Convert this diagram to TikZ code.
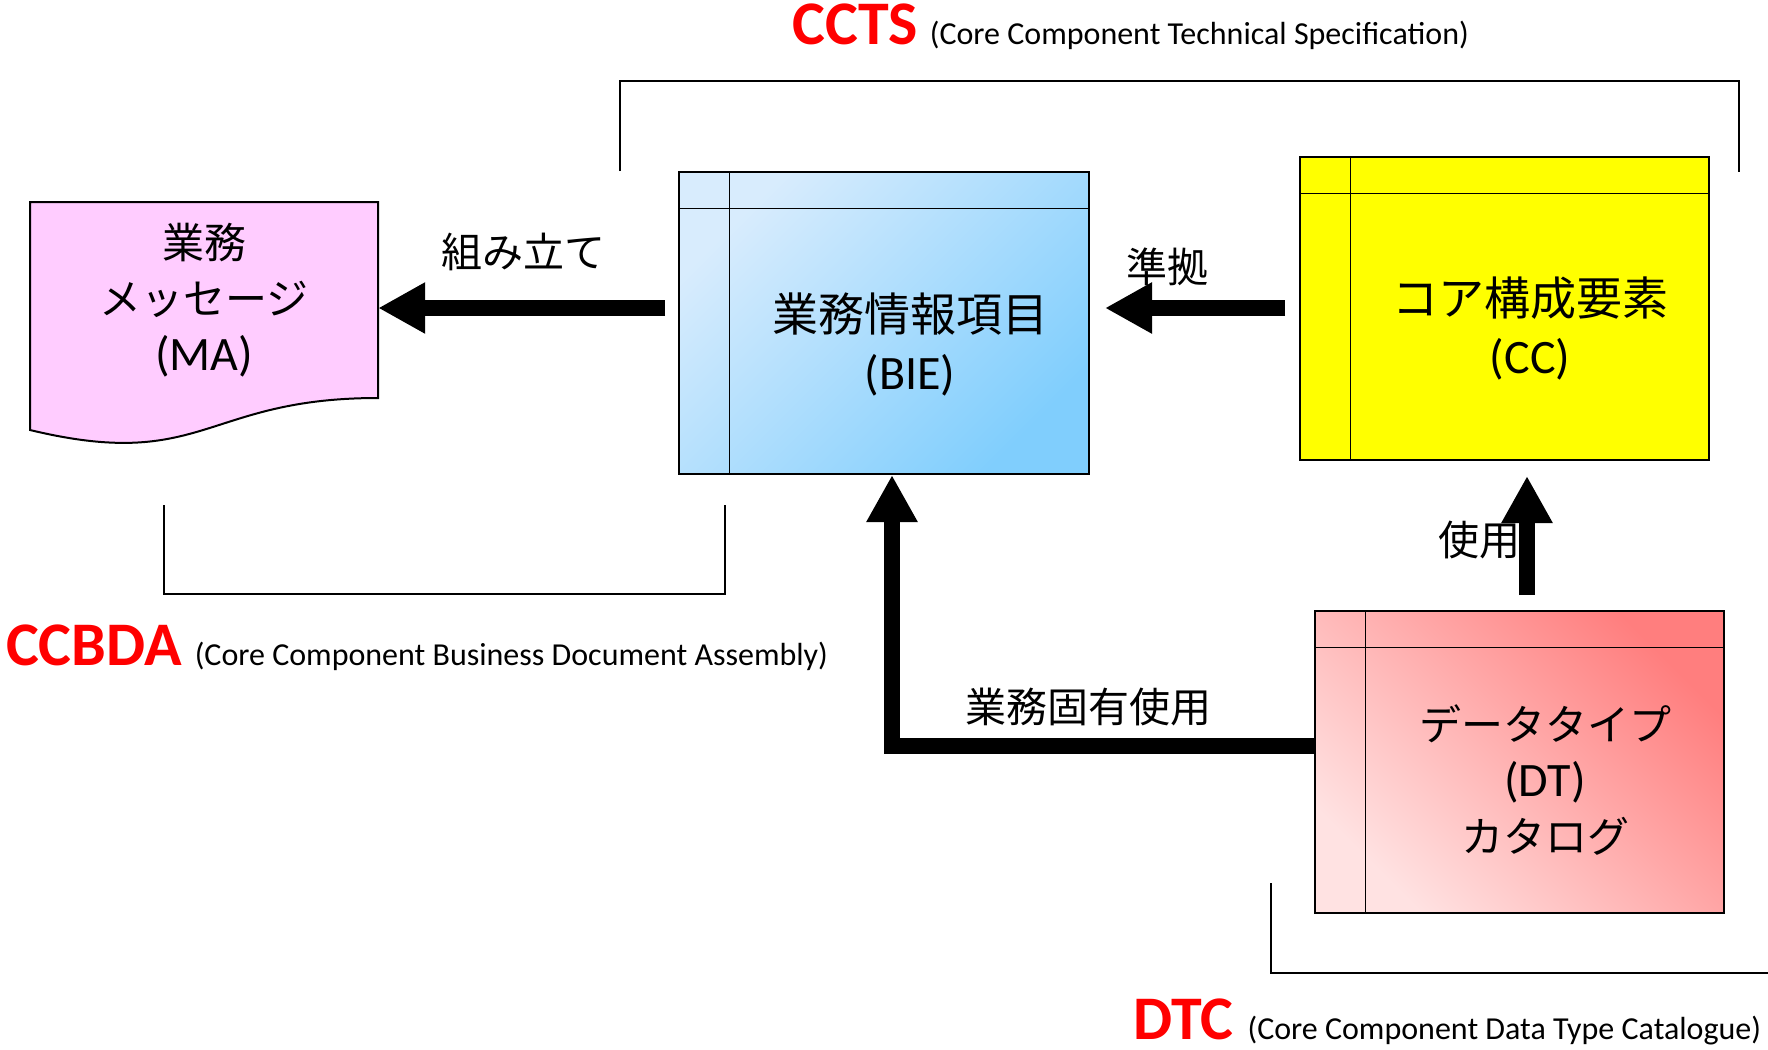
\documentclass[tikz,border=0pt]{standalone}
\usepackage{fontspec}
\setmainfont{Carlito}
\newfontfamily\jp{Noto Sans CJK JP}
\usetikzlibrary{arrows.meta,calc}
\definecolor{maPink}{RGB}{255,204,255}
\definecolor{ccYellow}{RGB}{255,255,0}
\definecolor{bieLight}{RGB}{216,236,253}
\definecolor{bieDark}{RGB}{128,206,253}
\definecolor{dtLight}{RGB}{255,226,226}
\definecolor{dtDark}{RGB}{255,126,126}
\definecolor{ttlRed}{RGB}{255,0,0}
\newcommand\tableframe[1]{%
  \draw[line width=1.8pt] ($(#1.north west)+(0,37.5)$) -- ($(#1.north east)+(0,37.5)$);
  \draw[line width=1.8pt] ($(#1.north west)+(51.5,0)$) -- ($(#1.south west)+(51.5,0)$);
}
\newcommand\latn[1]{{\fontsize{48}{48}\selectfont #1}}
\begin{document}
\begin{tikzpicture}[x=1pt,y=-1pt,
  boxline/.style={draw=black, line width=2pt, inner sep=0pt},
  bigarrow/.style={line width=16pt, -{Triangle[length=47pt,width=48pt]}, line join=miter},
  bracket/.style={draw=black, line width=2pt},
  bigtext/.style={align=center, inner sep=0pt, font=\fontsize{46}{58}\selectfont},
  midtext/.style={align=center, inner sep=0pt, font=\fontsize{42}{56}\selectfont},
  lbl/.style={inner sep=0pt, font=\jp\fontsize{41}{41}\selectfont},
  ttl/.style={anchor=base west, inner sep=0pt},
]
\useasboundingbox (0,0) rectangle (1768,1049);
\fill[white] (0,0) rectangle (1768,1049);

% brackets
\draw[bracket] (620,171) |- (1739,81) -- (1739,172);
\draw[bracket] (164,505) |- (725,594) -- (725,505);
\draw[bracket] (1271,883) |- (1768,973);

% MA document shape
\fill[maPink] (30,202) -- (378,202) -- (378,398) .. controls (204,398) and (204,472) .. (30,430) -- cycle;
\draw[line width=2pt, line join=miter] (30,202) -- (378,202) -- (378,398) .. controls (204,398) and (204,472) .. (30,430) -- cycle;
\node[midtext, minimum width=348pt, minimum height=196pt] (ma) at (204,300)
  {{\jp 業務}\\{\jp メッセージ}\\\latn{(MA)}};

% BIE
\node[boxline, top color=bieLight, bottom color=bieDark, shading angle=45,
      minimum width=410pt, minimum height=302pt] (bie) at (884,323) {};
\tableframe{bie}
\node[bigtext] (bietxt) at (910,344) {{\jp 業務情報項目}\\\latn{(BIE)}};

% CC
\node[boxline, fill=ccYellow, minimum width=409pt, minimum height=303pt] (cc) at (1504.5,308.5) {};
\tableframe{cc}
\node[bigtext] (cctxt) at (1530,328) {{\jp コア構成要素}\\\latn{(CC)}};

% DT
\node[boxline, top color=dtDark, bottom color=dtLight, shading angle=-45,
      minimum width=409pt, minimum height=302pt] (dt) at (1519.5,762) {};
\tableframe{dt}
\node[midtext] (dttxt) at (1545,780) {{\jp データタイプ}\\\latn{(DT)}\\{\jp カタログ}};

% arrows
\coordinate (a1) at (665,308);
\draw[bigarrow] (a1) -- (ma.east |- a1);
\coordinate (a2) at (1285,308);
\draw[bigarrow, shorten >=15pt] (a2) -- (bie.east |- a2);
\coordinate (a3) at (1527,595);
\draw[bigarrow, shorten >=15pt] (a3) -- (a3 |- cc.south);
\coordinate (a4) at (892,746);
\draw[bigarrow] (dt.west |- a4) -- (a4) -- (a4 |- bie.south);

% arrow labels
\node[lbl] (l1) at (523,252) {組み立て};
\node[lbl] (l2) at (1167,267) {準拠};
\node[lbl] (l3) at (1479,540) {使用};
\node[lbl] (l4) at (1088,707) {業務固有使用};

% titles
\node[ttl] (ccts) at (792,45) {\textcolor{ttlRed}{\bfseries\fontsize{62}{62}\selectfont CCTS}\hspace{12pt}{\fontsize{32}{32}\selectfont (Core Component Technical Specification)}};
\node[ttl] (ccbda) at (6,665) {\textcolor{ttlRed}{\bfseries\fontsize{62}{62}\selectfont CCBDA}\hspace{13pt}{\fontsize{32}{32}\selectfont (Core Component Business Document Assembly)}};
\node[ttl] (dtc) at (1133,1039) {\textcolor{ttlRed}{\bfseries\fontsize{62}{62}\selectfont DTC}\hspace{14pt}{\fontsize{32}{32}\selectfont (Core Component Data Type Catalogue)}};
\end{tikzpicture}
\end{document}
